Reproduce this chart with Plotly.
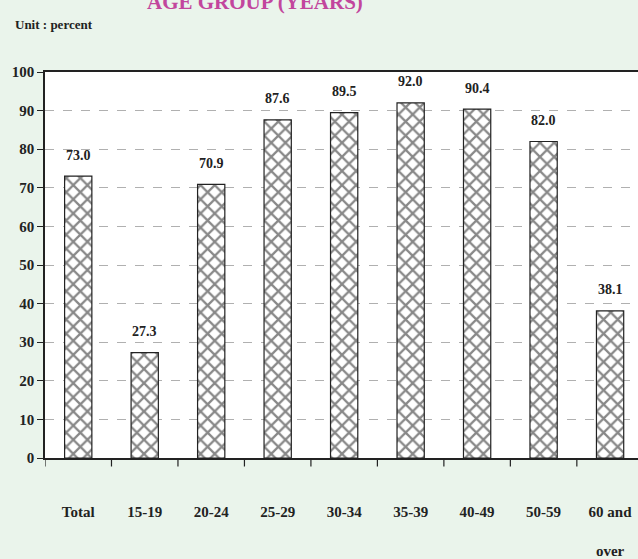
import plotly.graph_objects as go

categories = ["Total", "15-19", "20-24", "25-29", "30-34", "35-39", "40-49", "50-59", "60 and<br> <br>over"]
values = [73.0, 27.3, 70.9, 87.6, 89.5, 92.0, 90.4, 82.0, 38.1]
y_ticks = [0, 10, 20, 30, 40, 50, 60, 70, 80, 90, 100]

FONT = "Liberation Serif, Times New Roman, serif"
BG = "#EAF4EB"

fig = go.Figure()
fig.add_trace(go.Bar(
    x=list(range(len(categories))),
    y=values,
    width=0.41,
    marker=dict(
        color="white",
        line=dict(color="#222222", width=1.2),
        pattern=dict(shape="x", fgcolor="#111111", bgcolor="white", size=10, solidity=0.4),
    ),
    hoverinfo="skip",
))

for i, v in enumerate(values):
    fig.add_annotation(x=i, y=v, text=f"<b>{v:.1f}</b>", showarrow=False,
                       yshift=21, font=dict(family=FONT, size=14, color="#222222"))

fig.add_annotation(xref="paper", yref="paper", x=0.354, y=1.145, xanchor="center", yanchor="bottom",
                   text="<b>AGE GROUP (YEARS)</b>", showarrow=False,
                   font=dict(family=FONT, size=21, color="#C2469D"))
fig.add_annotation(xref="paper", yref="paper", x=-0.054, y=1.122, xanchor="left", yanchor="middle",
                   text="<b>Unit : percent</b>", showarrow=False,
                   font=dict(family=FONT, size=13, color="#222222"))

fig.update_layout(
    width=638, height=559,
    margin=dict(l=45, r=0, t=72, b=101),
    paper_bgcolor=BG, plot_bgcolor="white",
    showlegend=False,
    font=dict(family=FONT, size=15, color="#222222"),
    xaxis=dict(
        tickmode="array", tickvals=list(range(len(categories))),
        ticktext=[f"<b>{c}</b>" for c in categories],
        range=[-0.5, 8.42],
        showgrid=False, zeroline=False, automargin=False,
        showline=True, linecolor="#222222", linewidth=1.5, mirror=True,
        ticks="", ticklabelstandoff=39,
        tickfont=dict(family=FONT, size=15, color="#222222"),
    ),
    yaxis=dict(
        range=[0, 100], tickvals=y_ticks, automargin=False,
        ticktext=[f"<b>{t}</b>" for t in y_ticks],
        showgrid=True, gridcolor="#B0B0B0", griddash="dash", gridwidth=1,
        zeroline=False,
        showline=True, linecolor="#222222", linewidth=1.5,
        ticks="outside", ticklen=6, tickcolor="#222222",
        tickfont=dict(family=FONT, size=15, color="#222222"),
    ),
)

# tick marks at category boundaries on the x axis
for b in range(len(categories) + 1):
    xb = b - 0.5
    fig.add_shape(type="line", xref="x", yref="paper", x0=xb, x1=xb, y0=0, y1=-0.022,
                  line=dict(color="#222222", width=1.2))

fig.write_html("out.html", config={"displayModeBar": False},
               post_script="document.body.style.margin='0';document.body.style.overflow='hidden';")
